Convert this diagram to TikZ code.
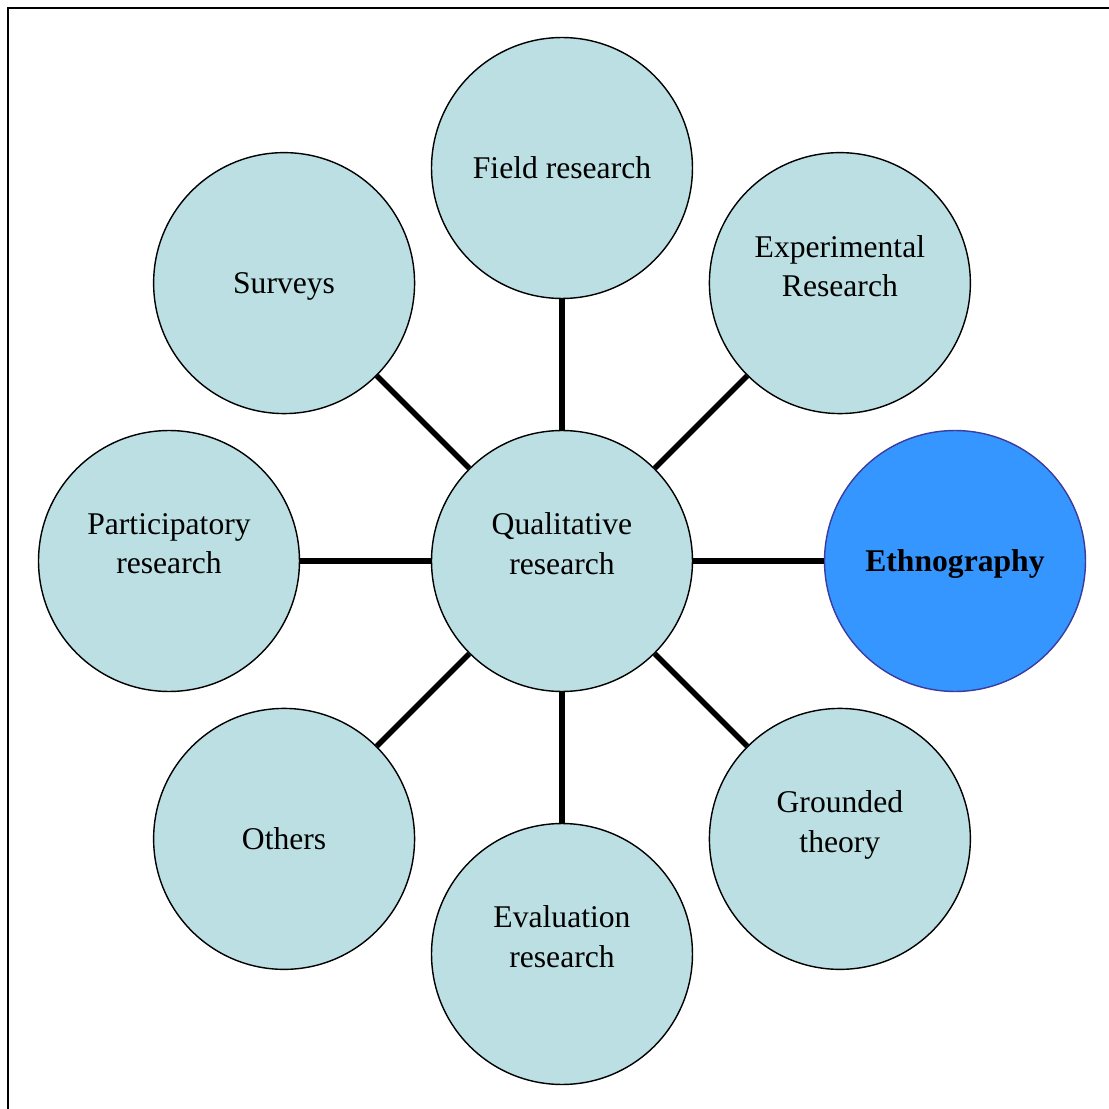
\documentclass[tikz,border=0pt]{standalone}
\usepackage{fontspec}
\setmainfont{Liberation Serif}

\definecolor{topicfill}{HTML}{BBDFE2}
\definecolor{ethnofill}{HTML}{3696FF}
\definecolor{ethnoline}{HTML}{3B3BA0}

\begin{document}
\begin{tikzpicture}[x=0.02cm, y=0.02cm,
  font=\fontsize{18}{22.5}\selectfont,
  topic/.style={
    draw,
    circle,
    fill=topicfill,
    minimum size=5.22cm,
    inner sep=0pt,
    align=center,
    text depth=0pt,
    line width=0.8pt
  },
  twolines/.style={text depth=0.69cm},
  link/.style={line width=3.2pt}
  ]

\useasboundingbox (-562,-548) rectangle (547,561);

% Frame (only top and left edges show)
\draw[line width=1.2pt] (-554,-548) -- (-554,553) -- (547,553);

% Hub
\node[topic, twolines] (qual) at (0,0) {Qualitative\\research};

% Methods around the hub
\node[topic] (field) at (90:393) {Field research};
\node[topic, twolines] (exper) at (45:393) {Experimental\\Research};
\node[topic, fill=ethnofill, draw=ethnoline] (ethno) at (0:393) {\textbf{Ethnography}};
\node[topic, twolines] (grounded) at (-45:393) {Grounded\\theory};
\node[topic, twolines] (evalres) at (-90:393) {Evaluation\\research};
\node[topic] (others) at (-135:393) {Others};
\node[topic, twolines] (partic) at (180:393) {Participatory\\research};
\node[topic] (surveys) at (135:393) {Surveys};

% Links
\draw[link] (qual) -- (field);
\draw[link] (qual) -- (exper);
\draw[link] (qual) -- (ethno);
\draw[link] (qual) -- (grounded);
\draw[link] (qual) -- (evalres);
\draw[link] (qual) -- (others);
\draw[link] (qual) -- (partic);
\draw[link] (qual) -- (surveys);

\end{tikzpicture}
\end{document}
